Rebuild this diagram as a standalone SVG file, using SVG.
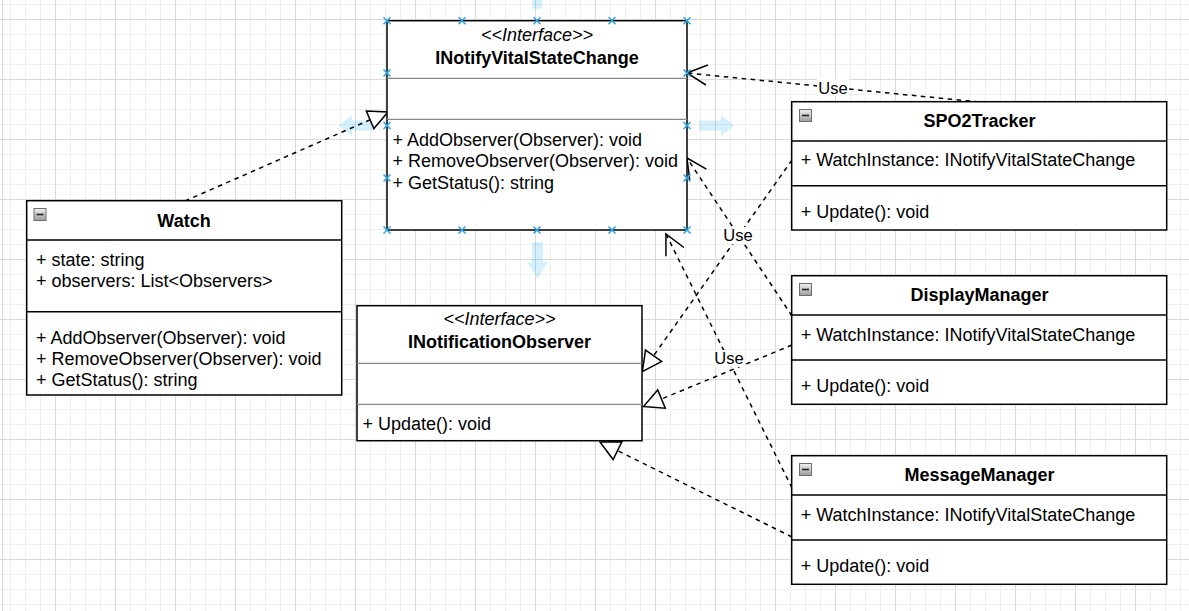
<svg xmlns="http://www.w3.org/2000/svg" xmlns:xlink="http://www.w3.org/1999/xlink" width="1189" height="611" viewBox="0 0 1189 611">
<style>
.t{font-family:"Liberation Sans",Arial,sans-serif;font-size:18px;fill:#000}
.b{font-weight:bold}
.c{text-anchor:middle}
.i{font-style:italic}
.box{fill:#fff;stroke:#000;stroke-width:1.5}
.dv{stroke:#000;stroke-width:1.5}
.hr{stroke:#888;stroke-width:1.2}
.edge{fill:none;stroke:#000;stroke-width:1.5;stroke-dasharray:4.5 4.5}
.tri{fill:#fff;stroke:#000;stroke-width:1.5;stroke-linejoin:miter}
.open{fill:none;stroke:#000;stroke-width:1.5}
.lbl{font-size:16.5px}
.lblbg{fill:#fff}
.hv{fill:#29b6f2;fill-opacity:0.2}
.sel{stroke:#2aa5e8;stroke-width:1.5;fill:none}
.ico{fill:url(#icog);stroke:#6e6e6e;stroke-width:1}
.icm{stroke:#222;stroke-width:1.6}
</style>
<defs>
<pattern id="grid" x="55" y="19" width="60" height="60" patternUnits="userSpaceOnUse">
<path d="M15.5 0V60M30.5 0V60M45.5 0V60M0 15.5H60M0 30.5H60M0 45.5H60" stroke="#efefef" stroke-width="1"/>
<path d="M0.5 0V60M0 0.5H60" stroke="#d9d9d9" stroke-width="1"/>
</pattern>
<linearGradient id="icog" x1="0" y1="0" x2="0" y2="1">
<stop offset="0" stop-color="#f2f2f2"/>
<stop offset="1" stop-color="#9c9c9c"/>
</linearGradient>
<path id="xm" class="sel" d="M-3.5,-3.5L3.5,3.5M3.5,-3.5L-3.5,3.5"/>
</defs>

<g id="background">
<rect width="1189" height="611" fill="#fff"/>
<rect width="1189" height="611" fill="url(#grid)"/>
<path d="M2.5 0V611" stroke="#d9d9d9" stroke-width="1"/>
</g>

<g id="hover-arrows">
<path class="hv" d="M532,8.7 L532,-10 L542,-10 L542,8.7 Z"/>
<path class="hv" d="M339,125.5 L352,115 L352,120.5 L375,120.5 L375,130.5 L352,130.5 L352,136 Z"/>
<path class="hv" d="M734,125.5 L721,115 L721,120.5 L699,120.5 L699,130.5 L721,130.5 L721,136 Z"/>
<path class="hv" d="M537.5,278 L527,262 L532,262 L532,242 L543,242 L543,262 L548,262 Z"/>
</g>

<g id="connectors">
<!-- Watch realizes INotifyVitalStateChange -->
<path class="edge" d="M185,201 L370.1,119.8"/>
<path class="tri" d="M388,112 L373.9,128.5 L366.3,111.1 Z"/>
<!-- SPO2Tracker uses INotifyVitalStateChange -->
<path class="edge" d="M979,102 L687,73"/>
<path class="open" d="M707.9,65 L687,73 L705.9,85"/>
<!-- SPO2Tracker realizes INotificationObserver -->
<path class="edge" d="M792,160 L653.6,355.8"/>
<path class="tri" d="M642.3,371.7 L661.7,361.5 L645.5,350.1 Z"/>
<!-- DisplayManager uses INotifyVitalStateChange -->
<path class="edge" d="M792,316 L687,158"/>
<path class="open" d="M689.7,180.2 L687,158 L706.4,169.1"/>
<!-- DisplayManager realizes INotificationObserver -->
<path class="edge" d="M792,345 L661.5,399"/>
<path class="tri" d="M643.5,406.5 L665.3,408.2 L657.7,389.9 Z"/>
<!-- MessageManager uses INotifyVitalStateChange -->
<path class="edge" d="M792,488 L666,234"/>
<path class="open" d="M665.9,256.3 L666,234 L683.9,247.5"/>
<!-- MessageManager realizes INotificationObserver -->
<path class="edge" d="M792,537 L617.5,450.6"/>
<path class="tri" d="M600,442 L613.1,459.5 L621.9,441.8 Z"/>
<!-- labels -->
<rect class="lblbg" x="817" y="79" width="32" height="17"/>
<text class="t c lbl" x="833" y="93.5">Use</text>
<rect class="lblbg" x="722" y="227" width="32" height="17"/>
<text class="t c lbl" x="738" y="241.2">Use</text>
<rect class="lblbg" x="713" y="350" width="32" height="17"/>
<text class="t c lbl" x="729" y="364.2">Use</text>
</g>

<g id="node-inotifyvitalstatechange">
<rect class="box" x="387" y="20.7" width="300" height="209.3"/>
<line class="hr" x1="387" y1="78.3" x2="687" y2="78.3"/>
<line class="hr" x1="387" y1="119.3" x2="687" y2="119.3"/>
<text class="t c i" x="537" y="40.7">&lt;&lt;Interface&gt;&gt;</text>
<text class="t c b" x="537" y="63.5">INotifyVitalStateChange</text>
<text class="t" x="392.5" y="145.7">+ AddObserver(Observer): void</text>
<text class="t" x="392.5" y="167">+ RemoveObserver(Observer): void</text>
<text class="t" x="392.5" y="188.5">+ GetStatus(): string</text>
</g>

<g id="node-inotificationobserver">
<rect class="box" x="357" y="305.7" width="285" height="135"/>
<line class="hr" x1="357" y1="363.3" x2="642" y2="363.3"/>
<line class="hr" x1="357" y1="404.3" x2="642" y2="404.3"/>
<text class="t c i" x="499.5" y="325">&lt;&lt;Interface&gt;&gt;</text>
<text class="t c b" x="499.5" y="347.5">INotificationObserver</text>
<text class="t" x="362.5" y="430">+ Update(): void</text>
</g>

<g id="node-watch">
<rect class="box" x="26.7" y="200.7" width="315" height="194.3"/>
<line class="dv" x1="26.7" y1="240" x2="341.7" y2="240"/>
<line class="dv" x1="26.7" y1="311.7" x2="341.7" y2="311.7"/>
<rect class="ico" x="34" y="208.5" width="12" height="12"/>
<line class="icm" x1="36.5" y1="214.5" x2="43.5" y2="214.5"/>
<text class="t c b" x="184" y="226.5">Watch</text>
<text class="t" x="36" y="265.5">+ state: string</text>
<text class="t" x="36" y="286.5">+ observers: List&lt;Observers&gt;</text>
<text class="t" x="36" y="343.5">+ AddObserver(Observer): void</text>
<text class="t" x="36" y="364.5">+ RemoveObserver(Observer): void</text>
<text class="t" x="36" y="385.5">+ GetStatus(): string</text>
</g>

<g id="node-spo2tracker">
<rect class="box" x="791.7" y="101.7" width="375" height="128.3"/>
<line class="dv" x1="791.7" y1="141" x2="1166.7" y2="141"/>
<line class="dv" x1="791.7" y1="185.7" x2="1166.7" y2="185.7"/>
<rect class="ico" x="799.5" y="109.5" width="12" height="12"/>
<line class="icm" x1="802" y1="115.5" x2="809" y2="115.5"/>
<text class="t c b" x="979.5" y="126.7">SPO2Tracker</text>
<text class="t" x="800.7" y="166.3">+ WatchInstance: INotifyVitalStateChange</text>
<text class="t" x="800.7" y="217.7">+ Update(): void</text>
</g>

<g id="node-displaymanager">
<rect class="box" x="791.7" y="275.7" width="375" height="128.6"/>
<line class="dv" x1="791.7" y1="315" x2="1166.7" y2="315"/>
<line class="dv" x1="791.7" y1="360" x2="1166.7" y2="360"/>
<rect class="ico" x="799.5" y="283.5" width="12" height="12"/>
<line class="icm" x1="802" y1="289.5" x2="809" y2="289.5"/>
<text class="t c b" x="979.5" y="301">DisplayManager</text>
<text class="t" x="800.7" y="341">+ WatchInstance: INotifyVitalStateChange</text>
<text class="t" x="800.7" y="391.7">+ Update(): void</text>
</g>

<g id="node-messagemanager">
<rect class="box" x="791.7" y="455.7" width="375" height="128.6"/>
<line class="dv" x1="791.7" y1="495" x2="1166.7" y2="495"/>
<line class="dv" x1="791.7" y1="540" x2="1166.7" y2="540"/>
<rect class="ico" x="799.5" y="463.5" width="12" height="12"/>
<line class="icm" x1="802" y1="469.5" x2="809" y2="469.5"/>
<text class="t c b" x="979.5" y="481">MessageManager</text>
<text class="t" x="800.7" y="520.5">+ WatchInstance: INotifyVitalStateChange</text>
<text class="t" x="800.7" y="571.7">+ Update(): void</text>
</g>

<g id="selection-handles">
<use xlink:href="#xm" x="387" y="20.7"/>
<use xlink:href="#xm" x="462" y="20.7"/>
<use xlink:href="#xm" x="537" y="20.7"/>
<use xlink:href="#xm" x="612" y="20.7"/>
<use xlink:href="#xm" x="687" y="20.7"/>
<use xlink:href="#xm" x="387" y="230"/>
<use xlink:href="#xm" x="462" y="230"/>
<use xlink:href="#xm" x="537" y="230"/>
<use xlink:href="#xm" x="612" y="230"/>
<use xlink:href="#xm" x="687" y="230"/>
<use xlink:href="#xm" x="387" y="73"/>
<use xlink:href="#xm" x="387" y="125.5"/>
<use xlink:href="#xm" x="387" y="178"/>
<use xlink:href="#xm" x="687" y="73"/>
<use xlink:href="#xm" x="687" y="125.5"/>
<use xlink:href="#xm" x="687" y="178"/>
</g>
</svg>
